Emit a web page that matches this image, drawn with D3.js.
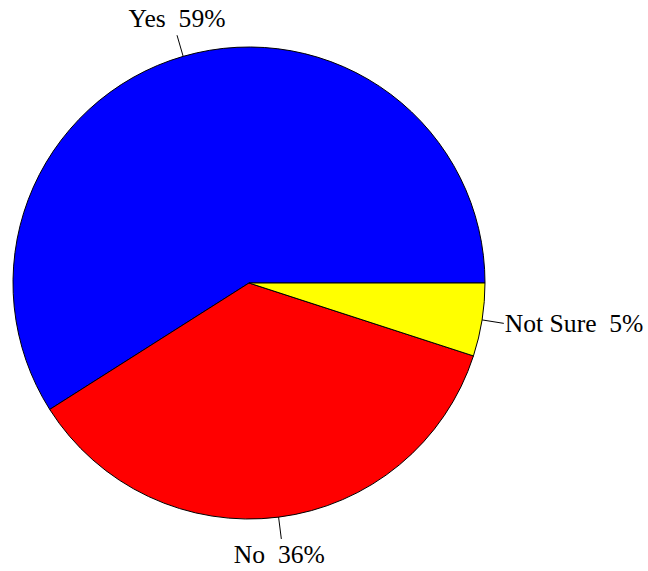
<!DOCTYPE html>
<html><head><meta charset="utf-8">
<script src="https://cdn.jsdelivr.net/npm/d3@7"></script>
<style>html,body{margin:0;padding:0;background:#fff;}</style>
</head><body>
<svg id="c" width="648" height="571"></svg>
<script>
const categories = ["Yes", "No", "Not Sure"];
const values = [59, 36, 5];
const labels = ["Yes  59%", "No  36%", "Not Sure  5%"];
const colors = ["#0000FF", "#FF0000", "#FFFF00"];

const svg = d3.select("#c");
const cx = 249, cy = 283, r = 236;
const g = svg.append("g").attr("transform", `translate(${cx},${cy})`);
const pie = d3.pie().sort(null).value(d => d).startAngle(Math.PI/2).endAngle(Math.PI/2 - 2*Math.PI);
const arcs = pie(values);
const arc = d3.arc().innerRadius(0).outerRadius(r);
g.selectAll("path.s").data(arcs).join("path").attr("class","s")
  .attr("d", arc).attr("fill", (d,i) => colors[i])
  .attr("stroke", "#000").attr("stroke-width", 1);

arcs.forEach((d, i) => {
  const a = (d.startAngle + d.endAngle) / 2;
  const sx = Math.sin(a), sy = -Math.cos(a);
  const x1 = sx * r, y1 = sy * r, x2 = sx * (r + 22), y2 = sy * (r + 22);
  g.append("line").attr("x1", x1).attr("y1", y1).attr("x2", x2).attr("y2", y2)
    .attr("stroke", "#000").attr("stroke-width", 1);
  const t = g.append("text").text(labels[i])
    .attr("font-family", "'Liberation Serif', 'Times New Roman', serif")
    .attr("font-size", 25.6).attr("fill", "#000").style("white-space", "pre");
  if (Math.abs(sx) > 0.7) {
    t.attr("x", x2 + (sx > 0 ? 1 : -1)).attr("y", y2 + 9).attr("text-anchor", sx > 0 ? "start" : "end");
  } else if (sy < 0) {
    t.attr("x", x2).attr("y", y2 - 8).attr("text-anchor", "middle");
  } else {
    t.attr("x", x2 - 2).attr("y", y2 + 24).attr("text-anchor", "middle");
  }
});
</script>
</body></html>
